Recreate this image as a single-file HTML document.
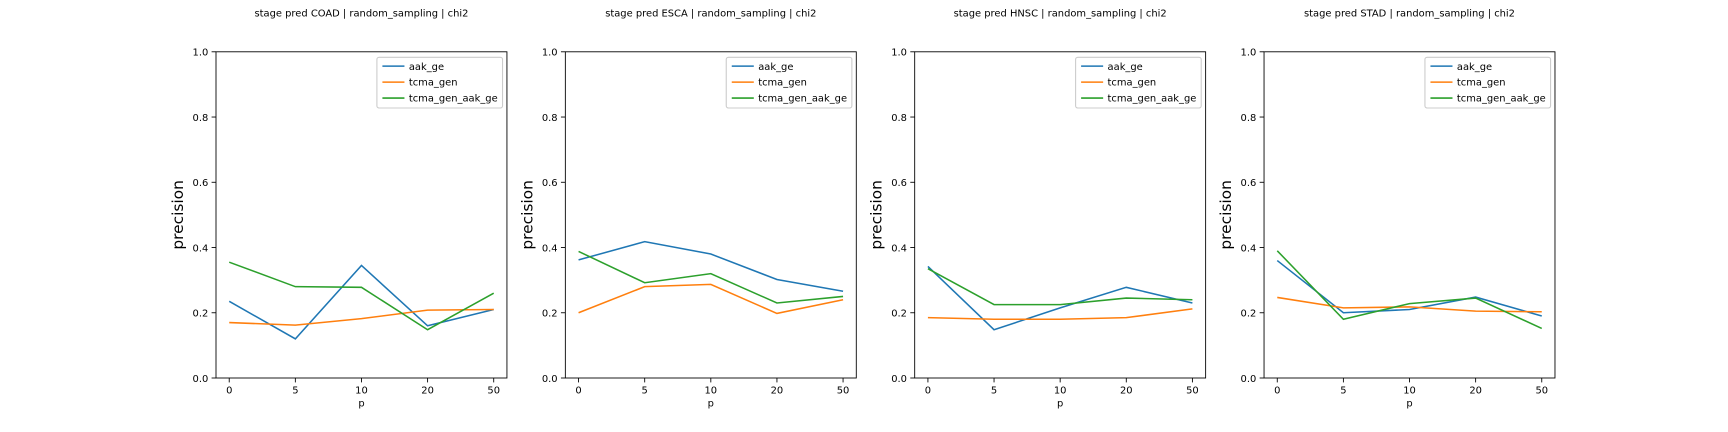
<!DOCTYPE html>
<html><head><meta charset="utf-8"><style>
body{margin:0;background:#fff;}
svg text{font-family:"DejaVu Sans","Liberation Sans",sans-serif;fill:#000;}
</style></head><body>
<svg id="fig" width="1728" height="432" viewBox="0 0 1568 392" preserveAspectRatio="none" xmlns="http://www.w3.org/2000/svg" style="display:block"></svg>
<script>
const categories = ["0","5","10","20","50"];
const yTicks = [0.0,0.2,0.4,0.6,0.8,1.0];
const panelTitles = ["stage pred COAD | random_sampling | chi2","stage pred ESCA | random_sampling | chi2","stage pred HNSC | random_sampling | chi2","stage pred STAD | random_sampling | chi2"];
const seriesNames = ["aak_ge","tcma_gen","tcma_gen_aak_ge"];
const seriesColors = ["#1f77b4","#ff7f0e","#2ca02c"];
const aakGe = [[0.235,0.12,0.345,0.16,0.21],[0.362,0.418,0.38,0.302,0.266],[0.342,0.148,0.215,0.278,0.23],[0.36,0.2,0.21,0.248,0.19]];
const tcmaGen = [[0.17,0.162,0.182,0.208,0.21],[0.2,0.28,0.287,0.198,0.24],[0.185,0.18,0.18,0.185,0.212],[0.247,0.215,0.218,0.205,0.203]];
const tcmaGenAakGe = [[0.355,0.28,0.278,0.148,0.26],[0.388,0.292,0.32,0.23,0.25],[0.335,0.225,0.225,0.245,0.24],[0.39,0.18,0.228,0.245,0.152]];
const allSeries=[aakGe,tcmaGen,tcmaGenAakGe];
const NS="http://www.w3.org/2000/svg";
const svgEl=document.getElementById('fig');
function mk(tag,attrs,parent){const e=document.createElementNS(NS,tag);for(const k in attrs)e.setAttribute(k,attrs[k]);(parent||svgEl).appendChild(e);return e;}
const lefts=[196,513,830,1147], W=264, axTop=47, axBottom=343;
lefts.forEach((L,p)=>{
  const g=mk('g',{});
  
  
  const xs=i=>L+12+i*(W-24)/(categories.length-1);
  const ys=v=>axBottom-v*(axBottom-axTop);
  const t=mk('text',{x:L+W/2,y:15,'text-anchor':'middle','font-size':9},g);t.textContent=panelTitles[p];
  
  
  yTicks.forEach(v=>{
    mk('line',{x1:L-4,x2:L,y1:ys(v),y2:ys(v),stroke:'#000','stroke-width':0.8},g);
    const tt=mk('text',{x:L-7,y:ys(v)+3.5,'text-anchor':'end','font-size':9},g);tt.textContent=v.toFixed(1);
    
    
  });
  categories.forEach((c,i)=>{
    mk('line',{x1:xs(i),x2:xs(i),y1:axBottom,y2:axBottom+4,stroke:'#000','stroke-width':0.8},g);
    const tt=mk('text',{x:xs(i),y:axBottom+14,'text-anchor':'middle','font-size':9},g);tt.textContent=c;
    
    
  });
  const xl=mk('text',{x:L+W/2,y:369,'text-anchor':'middle','font-size':9},g);xl.textContent='p';
  
  
  const yl=mk('text',{x:0,y:0,'text-anchor':'middle','font-size':14,transform:`translate(${L-30},${(axTop+axBottom)/2}) rotate(-90)`},g);yl.textContent='precision';
  
  
  allSeries.forEach((s,k)=>{
    const pl=mk('polyline',{points:s[p].map((v,i)=>xs(i)+','+ys(v)).join(' '),fill:'none',stroke:seriesColors[k],'stroke-width':1.4},g);
    
    
  });
  const fr=mk('rect',{x:L,y:axTop,width:W,height:axBottom-axTop,fill:'none',stroke:'#000','stroke-width':0.8},g);
  
  
  const lg=mk('g',{},g);
  
  
  mk('rect',{x:L+146,y:52,width:114,height:46,fill:'#fff',stroke:'#ccc','stroke-width':1,rx:2},lg);
  seriesNames.forEach((n,k)=>{
    const yy=60+k*14.5;
    mk('line',{x1:L+151,x2:L+171,y1:yy,y2:yy,stroke:seriesColors[k],'stroke-width':1.4},lg);
    const lt=mk('text',{x:L+175,y:yy+3.3,'font-size':9},lg);lt.textContent=n;
    
    
  });
});
</script>
</body></html>
